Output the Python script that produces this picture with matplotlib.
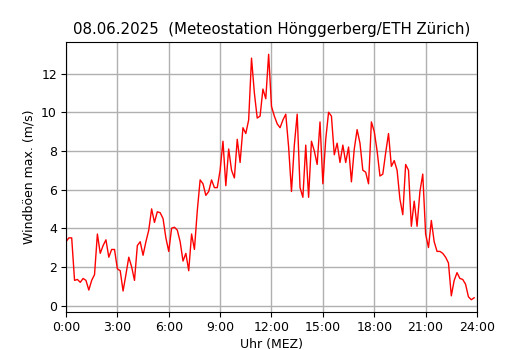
import matplotlib
matplotlib.use("Agg")
import matplotlib.pyplot as plt
import numpy as np

title = "08.06.2025  (Meteostation Hönggerberg/ETH Zürich)"
xlabel = "Uhr (MEZ)"
ylabel = "Windböen max. (m/s)"
tick_hours = [0, 3, 6, 9, 12, 15, 18, 21, 24]
tick_labels = ["0:00", "3:00", "6:00", "9:00", "12:00", "15:00", "18:00", "21:00", "24:00"]

# 10-minute maximum gusts (m/s), 0:00 .. 23:50
gusts = [
    3.3, 3.5, 3.5, 1.3, 1.35, 1.2, 1.4, 1.3, 0.8, 1.3, 1.6, 3.7,
    2.7, 3.1, 3.4, 2.5, 2.9, 2.9, 1.9, 1.8, 0.75, 1.6, 2.5, 2.0,
    1.3, 3.1, 3.3, 2.6, 3.3, 3.9, 5.0, 4.3, 4.85, 4.8, 4.5, 3.5,
    2.8, 4.0, 4.05, 3.9, 3.3, 2.3, 2.7, 1.8, 3.7, 2.9, 4.9, 6.5,
    6.3, 5.7, 5.9, 6.5, 6.1, 6.1, 7.0, 8.5, 6.2, 8.1, 7.0, 6.6,
    8.6, 7.4, 9.2, 8.9, 9.6, 12.8, 11.0, 9.7, 9.8, 11.2, 10.7, 13.0,
    10.3, 9.8, 9.4, 9.2, 9.6, 9.9, 8.2, 5.9, 8.3, 9.9, 6.1, 5.6,
    8.3, 5.6, 8.5, 8.0, 7.3, 9.5, 6.3, 8.6, 10.0, 9.8, 7.8, 8.4,
    7.4, 8.3, 7.4, 8.2, 6.4, 8.1, 9.1, 8.4, 7.0, 6.9, 6.3, 9.5,
    9.0, 8.0, 6.7, 6.8, 7.9, 8.9, 7.2, 7.5, 7.0, 5.5, 4.7, 7.3,
    7.0, 4.1, 5.4, 4.1, 5.9, 6.8, 3.7, 3.0, 4.4, 3.3, 2.8, 2.8,
    2.7, 2.5, 2.2, 0.5, 1.3, 1.7, 1.4, 1.35, 1.1, 0.45, 0.3, 0.4,
]
hours = np.arange(len(gusts)) / 6.0

fig = plt.figure(figsize=(5.3, 3.5), dpi=100)
ax = fig.add_axes([0.1245, 0.1086, 0.7755, 0.7714])
ax.plot(hours, gusts, color="red", linewidth=1)
ax.set_xlim(0, 24)
ax.set_xticks(tick_hours)
ax.set_xticklabels(tick_labels)
ax.set_yticks([0, 2, 4, 6, 8, 10, 12])
ax.grid(True, color="#b0b0b0", linewidth=1)
ax.set_axisbelow(True)
ax.set_title(title, fontsize=10.8)
ax.set_xlabel(xlabel, fontsize=9, labelpad=3)
ax.set_ylabel(ylabel, fontsize=9)
ax.tick_params(labelsize=9, pad=3)
fig.savefig("out.png", dpi=100)
